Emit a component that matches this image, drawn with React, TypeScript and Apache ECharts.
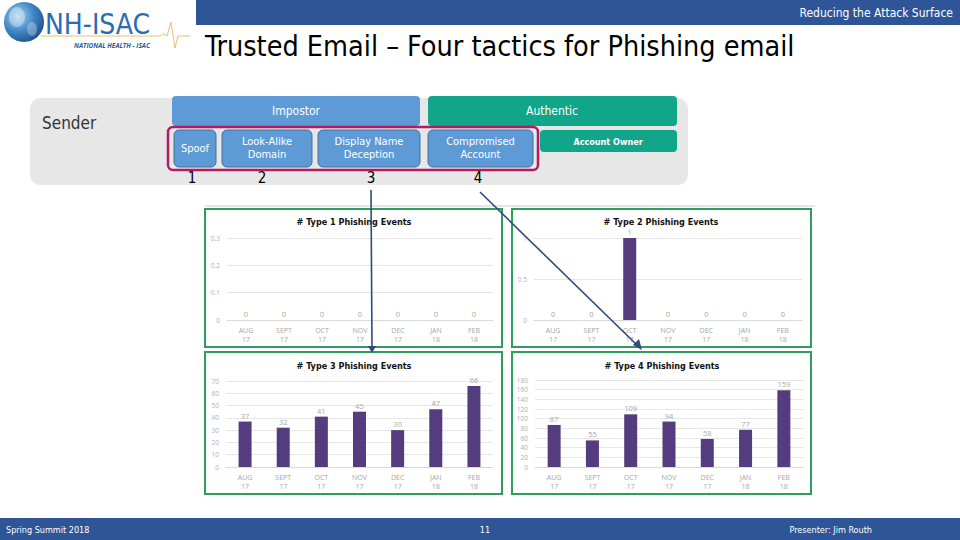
import React, { useEffect, useRef } from "react";
import * as echarts from "echarts";

const months = ["AUG\n17", "SEPT\n17", "OCT\n17", "NOV\n17", "DEC\n17", "JAN\n18", "FEB\n18"];
const type1Values = [0, 0, 0, 0, 0, 0, 0];
const type2Values = [0, 0, 1, 0, 0, 0, 0];
const type3Values = [37, 32, 41, 45, 30, 47, 66];
const type4Values = [87, 55, 109, 94, 58, 77, 159];
const chartTitles = ["# Type 1 Phishing Events", "# Type 2 Phishing Events", "# Type 3 Phishing Events", "# Type 4 Phishing Events"];
const yMax = [0.3, 1, 70, 180];
const yInterval = [0.1, 0.5, 10, 20];
const tacticLabels = ["Spoof", "Look-Alike\nDomain", "Display Name\nDeception", "Compromised\nAccount"];
const tacticNumbers = ["1", "2", "3", "4"];

const NARROW = "'Liberation Sans Narrow', 'DejaVu Sans Condensed', sans-serif";
const SANS = "'Open Sans', 'DejaVu Sans', sans-serif";
const BLUE = "#2E5597";
const PURPLE = "#553C7E";
const GREEN = "#2E9E5E";

export default function App() {
  const ref = useRef<HTMLDivElement>(null);
  useEffect(() => {
    if (!ref.current) return;
    const chart = echarts.init(ref.current, undefined, { renderer: "svg" });

    const grids = [
      { left: 227, top: 238, width: 266, height: 82 },
      { left: 534, top: 238, width: 268, height: 82 },
      { left: 226, top: 381, width: 267, height: 86 },
      { left: 535, top: 380, width: 268, height: 87 },
    ];
    const allValues = [type1Values, type2Values, type3Values, type4Values];
    const titlePos = [
      { x: 354, y: 222 },
      { x: 661, y: 222 },
      { x: 354, y: 366 },
      { x: 662, y: 366 },
    ];
    const panels = [
      { x: 205, y: 209, width: 297, height: 138 },
      { x: 512, y: 209, width: 299, height: 138 },
      { x: 205, y: 352, width: 297, height: 142 },
      { x: 512, y: 352, width: 299, height: 142 },
    ];

    const tacticBoxes = [
      { x: 174, w: 42 },
      { x: 222, w: 90 },
      { x: 318, w: 102 },
      { x: 428, w: 105 },
    ];
    const numberX = [192, 262, 371, 478];

    const graphic: any[] = [
      // header bar
      { type: "rect", shape: { x: 196, y: 0, width: 764, height: 25 }, style: { fill: BLUE }, z: 1 },
      { type: "text", x: 953, y: 13, style: { text: "Reducing the Attack Surface", fill: "#fff", font: `12px ${NARROW}`, align: "right", verticalAlign: "middle" }, z: 2 },
      // footer
      { type: "rect", shape: { x: 0, y: 518, width: 960, height: 22 }, style: { fill: BLUE }, z: 1 },
      { type: "text", x: 6, y: 530, style: { text: "Spring Summit 2018", fill: "#fff", font: `9px ${NARROW}`, verticalAlign: "middle" }, z: 2 },
      { type: "text", x: 485, y: 530, style: { text: "11", fill: "#fff", font: `9px ${NARROW}`, align: "center", verticalAlign: "middle" }, z: 2 },
      { type: "text", x: 872, y: 530, style: { text: "Presenter: Jim Routh", fill: "#fff", font: `9px ${NARROW}`, align: "right", verticalAlign: "middle" }, z: 2 },
      // logo
      {
        type: "circle", shape: { cx: 24, cy: 22, r: 20 }, z: 2,
        style: {
          fill: new echarts.graphic.RadialGradient(0.35, 0.35, 0.8, [
            { offset: 0, color: "#A9D3F0" },
            { offset: 0.5, color: "#3F86C4" },
            { offset: 1, color: "#17457F" },
          ]),
        },
      },
      { type: "ellipse", shape: { cx: 17, cy: 17, rx: 8, ry: 10 }, style: { fill: "rgba(255,255,255,0.35)" }, z: 3 },
      { type: "ellipse", shape: { cx: 32, cy: 29, rx: 5, ry: 7 }, style: { fill: "rgba(255,255,255,0.3)" }, z: 3 },
      {
        type: "polyline", z: 2,
        shape: { points: [[40, 36], [160, 36], [164, 34], [167, 36], [171, 22], [175, 48], [178, 36], [190, 36]] },
        style: { stroke: "#E3AE55", lineWidth: 0.8, fill: "none" },
      },
      { type: "text", x: 45, y: 24, style: { text: "NH-ISAC", fill: "#2B6DB3", font: `28px ${NARROW}`, verticalAlign: "middle" }, z: 3 },
      { type: "text", x: 74, y: 45, style: { text: "NATIONAL HEALTH - ISAC", fill: "#1F5C9C", font: `italic bold 6.5px ${SANS}`, verticalAlign: "middle" }, z: 3 },
      // main title
      { type: "text", x: 205, y: 46, style: { text: "Trusted Email \u2013 Four tactics for Phishing email", fill: "#000", font: `28.5px ${NARROW}`, verticalAlign: "middle" }, z: 2 },
      // sender panel
      { type: "rect", shape: { x: 30, y: 98, width: 658, height: 87, r: 10 }, style: { fill: "#E7E7E7" }, z: 1 },
      { type: "text", x: 42, y: 123, style: { text: "Sender", fill: "#333", font: `17px ${NARROW}`, verticalAlign: "middle" }, z: 2 },
      { type: "rect", shape: { x: 172, y: 96, width: 248, height: 30, r: 4 }, style: { fill: "#5E9BD6" }, z: 2 },
      { type: "text", x: 296, y: 111, style: { text: "Impostor", fill: "#fff", font: `12px ${NARROW}`, align: "center", verticalAlign: "middle" }, z: 3 },
      { type: "rect", shape: { x: 428, y: 96, width: 249, height: 30, r: 4 }, style: { fill: "#11A58A" }, z: 2 },
      { type: "text", x: 552, y: 111, style: { text: "Authentic", fill: "#fff", font: `12px ${NARROW}`, align: "center", verticalAlign: "middle" }, z: 3 },
      { type: "rect", shape: { x: 540, y: 130, width: 137, height: 22, r: 4 }, style: { fill: "#11A58A" }, z: 2 },
      { type: "text", x: 608, y: 142, style: { text: "Account Owner", fill: "#fff", font: `bold 9px ${NARROW}`, align: "center", verticalAlign: "middle" }, z: 3 },
      { type: "rect", shape: { x: 168, y: 127, width: 370, height: 43, r: 5 }, style: { fill: "none", stroke: "#B21B62", lineWidth: 2.5 }, z: 4 },
    ];

    tacticBoxes.forEach((b, i) => {
      graphic.push({ type: "rect", shape: { x: b.x, y: 130, width: b.w, height: 37, r: 5 }, style: { fill: "#5E9BD6", stroke: "#41719C", lineWidth: 1 }, z: 2 });
      graphic.push({ type: "text", x: b.x + b.w / 2, y: 148, style: { text: tacticLabels[i], fill: "#fff", font: `11px ${NARROW}`, lineHeight: 13, align: "center", verticalAlign: "middle" }, z: 3 });
      graphic.push({ type: "text", x: numberX[i], y: 178, style: { text: tacticNumbers[i], fill: "#000", font: `15px ${NARROW}`, align: "center", verticalAlign: "middle" }, z: 3 });
    });

    // chart panels
    graphic.push({ type: "line", shape: { x1: 205, y1: 206, x2: 815, y2: 206 }, style: { stroke: "#DDDDDD", lineWidth: 1.5 }, z: 0 });
    panels.forEach((p) => {
      graphic.push({ type: "rect", shape: { x: p.x, y: p.y, width: p.width, height: p.height }, style: { fill: "none", stroke: GREEN, lineWidth: 2 }, z: 5 });
    });
    titlePos.forEach((t, i) => {
      graphic.push({ type: "text", x: t.x, y: t.y, style: { text: chartTitles[i], fill: "#111", font: `bold 9px ${NARROW}`, align: "center", verticalAlign: "middle" }, z: 5 });
    });

    // arrows
    const arrowColor = "#2C4D7A";
    graphic.push({ type: "line", shape: { x1: 371, y1: 190, x2: 372, y2: 348 }, style: { stroke: arrowColor, lineWidth: 1.6 }, z: 10 });
    graphic.push({ type: "polygon", shape: { points: [[368, 346], [376, 346], [372, 353]] }, style: { fill: arrowColor }, z: 10 });
    graphic.push({ type: "line", shape: { x1: 480, y1: 192, x2: 638, y2: 346 }, style: { stroke: arrowColor, lineWidth: 1.6 }, z: 10 });
    graphic.push({ type: "polygon", shape: { points: [[633, 345], [639, 339], [642, 350]] }, style: { fill: arrowColor }, z: 10 });

    const option: any = {
      animation: false,
      backgroundColor: "#fff",
      grid: grids.map((g) => ({ ...g, containLabel: false })),
      xAxis: grids.map((_, i) => ({
        type: "category",
        gridIndex: i,
        data: months,
        axisTick: { show: false },
        axisLine: { show: true, lineStyle: { color: "#D9D9D9" } },
        axisLabel: { color: "#A6A6A6", fontSize: 7, lineHeight: 9, margin: 6, fontFamily: SANS, interval: 0 },
      })),
      yAxis: grids.map((_, i) => ({
        type: "value",
        gridIndex: i,
        min: 0,
        max: yMax[i],
        interval: yInterval[i],
        axisLine: { show: false },
        axisTick: { show: false },
        axisLabel: { color: "#B0B0B0", fontSize: 6.5, margin: 7, fontFamily: SANS },
        splitLine: { lineStyle: { color: "#E6E6E6" } },
      })),
      series: allValues.map((vals, i) => ({
        type: "bar",
        xAxisIndex: i,
        yAxisIndex: i,
        data: vals,
        barWidth: 13,
        itemStyle: { color: PURPLE },
        label: { show: true, position: "top", distance: 2, color: "#A6A6A6", fontSize: 7.5, fontFamily: SANS },
      })),
      graphic,
    };
    chart.setOption(option);
    return () => chart.dispose();
  }, []);
  return <div ref={ref} style={{ position: "fixed", left: 0, top: 0, width: 960, height: 540, background: "#fff" }} />;
}
